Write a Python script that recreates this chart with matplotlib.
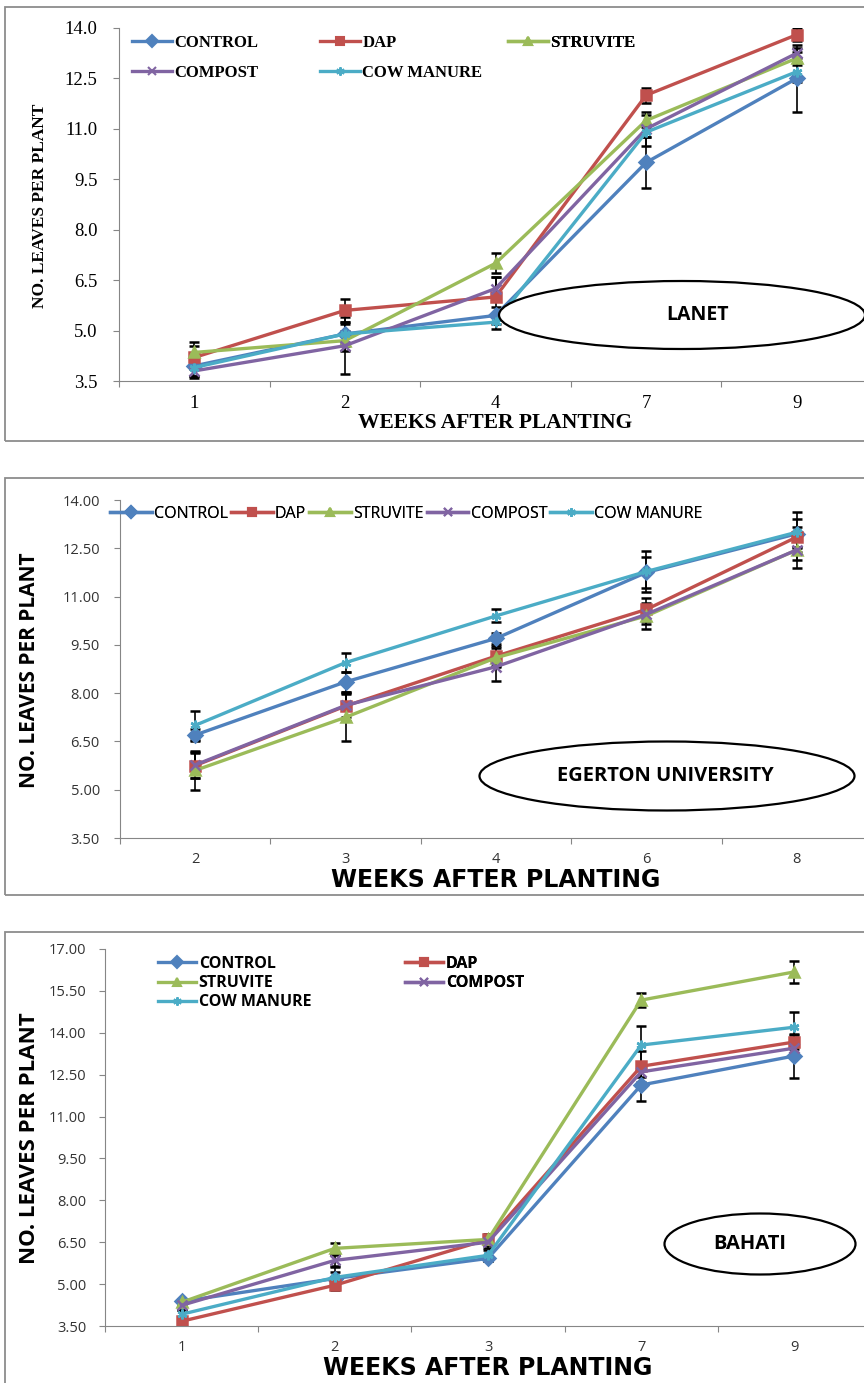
import matplotlib
matplotlib.use("Agg")
import matplotlib.pyplot as plt
from matplotlib.patches import Rectangle, Ellipse
from matplotlib.lines import Line2D

W, H = 864, 1383

names = ["CONTROL", "DAP", "STRUVITE", "COMPOST", "COW MANURE"]
colors = ["#4F81BD", "#C0504D", "#9BBB59", "#8064A2", "#4BACC6"]
markers = ["D", "s", "^", "x", (6, 2, 0)]

# LANET
lanet_weeks = ["1", "2", "4", "7", "9"]
lanet_control = [3.95, 4.90, 5.45, 10.0, 12.5]
lanet_dap = [4.2, 5.6, 6.0, 12.0, 13.8]
lanet_struvite = [4.35, 4.7, 7.0, 11.25, 13.1]
lanet_compost = [3.8, 4.55, 6.25, 11.0, 13.25]
lanet_cow = [3.9, 4.9, 5.25, 10.9, 12.7]
lanet_err = [
    [0.3, 0.35, 0.25, 0.75, 1.0],
    [0.35, 0.35, 0.6, 0.23, 0.2],
    [0.3, 0.3, 0.3, 0.15, 0.2],
    [0.2, 0.85, 0.35, 0.5, 0.15],
    [0.25, 0.3, 0.2, 0.15, 0.3],
]

# EGERTON UNIVERSITY
egerton_weeks = ["2", "3", "4", "6", "8"]
egerton_control = [6.7, 8.35, 9.7, 11.75, 12.95]
egerton_dap = [5.75, 7.6, 9.15, 10.6, 12.85]
egerton_struvite = [5.6, 7.25, 9.1, 10.4, 12.45]
egerton_compost = [5.77, 7.62, 8.82, 10.45, 12.45]
egerton_cow = [7.0, 8.95, 10.4, 11.78, 13.0]
egerton_err = [
    [0.2, 0.3, 0.17, 0.47, 0.45],
    [0.4, 0.45, 0.3, 0.35, 0.3],
    [0.6, 0.75, 0.3, 0.4, 0.55],
    [0.4, 0.35, 0.45, 0.3, 0.3],
    [0.45, 0.3, 0.2, 0.65, 0.63],
]

# BAHATI
bahati_weeks = ["1", "2", "3", "7", "9"]
bahati_control = [4.38, 5.2, 5.92, 12.13, 13.17]
bahati_dap = [3.67, 4.96, 6.6, 12.8, 13.67]
bahati_struvite = [4.35, 6.28, 6.6, 15.17, 16.18]
bahati_compost = [4.24, 5.85, 6.5, 12.6, 13.45]
bahati_cow = [3.92, 5.24, 6.03, 13.56, 14.2]
bahati_err = [
    [0.1, 0.4, 0.1, 0.58, 0.8],
    [0.1, 0.12, 0.2, 0.55, 0.25],
    [0.1, 0.2, 0.1, 0.25, 0.4],
    [0.15, 0.2, 0.2, 0.2, 0.2],
    [0.15, 0.2, 0.2, 0.68, 0.54],
]

SERIF = "Liberation Serif"
SANS = "Open Sans"
WIDE = "DejaVu Sans"

fig = plt.figure(figsize=(W / 100, H / 100), dpi=100)


def fx(px):
    return px / W


def fy(py):
    return 1 - py / H


def make_axes(left, right, top, bottom):
    return fig.add_axes([fx(left), fy(bottom), (right - left) / W, (bottom - top) / H])


def draw_panel(ax, weeks, series, errs, ymax, fmt, font, tick_size, tick_color, ypad):
    x = list(range(len(weeks)))
    for vals, err, c, m in zip(series, errs, colors, markers):
        ax.errorbar(x, vals, yerr=err, color=c, marker=m, markersize=7, lw=2.4,
                    mew=1.8, ecolor="black", elinewidth=1.2, capsize=3.5, capthick=1.2)
    ax.set_xlim(-0.5, len(weeks) - 0.5)
    ax.set_ylim(3.5, ymax)
    yt = [3.5 + 1.5 * i for i in range(int((ymax - 3.5) / 1.5) + 1)]
    ax.set_yticks(yt)
    ax.set_yticklabels([fmt % v for v in yt], family=font, size=tick_size, color=tick_color)
    ax.set_xticks([i - 0.5 for i in range(len(weeks) + 1)])
    ax.set_xticklabels([])
    ax.set_xticks(x, minor=True)
    ax.set_xticklabels(weeks, minor=True, family=font, size=tick_size, color=tick_color)
    ax.tick_params(axis="x", which="minor", length=0, pad=10)
    ax.tick_params(axis="x", which="major", length=4.5, direction="out", color="#868686")
    ax.tick_params(axis="y", length=4.5, direction="out", color="#868686", pad=ypad)
    for s in ["top", "right"]:
        ax.spines[s].set_visible(False)
    for s in ["left", "bottom"]:
        ax.spines[s].set_color("#868686")
    ax.set_facecolor("none")


def legend_block(ax, idx, x, y, font, size, weight, handlelen, spacing):
    handles = [Line2D([], [], color=colors[i], marker=markers[i], lw=2.4, markersize=6, mew=1.5)
               for i in idx]
    leg = ax.legend(handles, [names[i] for i in idx], loc="upper left",
                    bbox_to_anchor=(fx(x), fy(y)), bbox_transform=fig.transFigure,
                    frameon=False, borderpad=0, borderaxespad=0, handlelength=handlelen,
                    handletextpad=0.15, labelspacing=spacing,
                    ncol=len(idx) if len(idx) == 5 else 1, columnspacing=0.2,
                    prop={"family": font, "size": size, "weight": weight})
    ax.add_artist(leg)


def frame(top, bottom):
    fig.patches.append(Rectangle((fx(5), fy(bottom)), 1.2, (bottom - top) / H,
                                 transform=fig.transFigure, fill=False,
                                 edgecolor="#8c8c8c", lw=1.3))


def oval(cx, cy, w, h, text, tx, size):
    fig.patches.append(Ellipse((fx(cx), fy(cy)), w / W, h / H, transform=fig.transFigure,
                               fill=True, facecolor="white", edgecolor="black", lw=1.6, zorder=5))
    fig.text(fx(tx), fy(cy), text, family=SANS, weight="bold", size=size,
             ha="center", va="center", zorder=6)


# Panel 1: LANET
frame(7, 441)
ax1 = make_axes(119, 872, 28, 381)
draw_panel(ax1, lanet_weeks,
           [lanet_control, lanet_dap, lanet_struvite, lanet_compost, lanet_cow],
           lanet_err, 14.0, "%.1f", SERIF, 13.5, "black", 11)
legend_block(ax1, [0, 3], 132, 35, SERIF, 12, "bold", 2.4, 0.85)
legend_block(ax1, [1, 4], 320, 35, SERIF, 12, "bold", 2.4, 0.85)
legend_block(ax1, [2], 508, 35, SERIF, 12, "bold", 2.4, 0.85)
fig.text(fx(40), fy(206), "NO. LEAVES PER PLANT", family=SERIF, weight="bold", size=12.5,
         rotation=90, ha="center", va="center")
fig.text(fx(495), fy(423), "WEEKS AFTER PLANTING", family=SERIF, weight="bold", size=15.5,
         ha="center", va="center")
oval(682, 315, 366, 68, "LANET", 698, 14)

# Panel 2: EGERTON UNIVERSITY
frame(478, 895)
ax2 = make_axes(120, 872, 500, 838)
draw_panel(ax2, egerton_weeks,
           [egerton_control, egerton_dap, egerton_struvite, egerton_compost, egerton_cow],
           egerton_err, 14.0, "%.2f", SANS, 10.5, "#333333", 10)
legend_block(ax2, [0, 1, 2, 3, 4], 110, 506, SANS, 11.5, "normal", 2.6, 0.5)
fig.text(fx(30), fy(670), "NO. LEAVES PER PLANT", family=SANS, weight="bold", size=15,
         rotation=90, ha="center", va="center")
fig.text(fx(496), fy(880), "WEEKS AFTER PLANTING", family=WIDE, weight="bold", size=17,
         ha="center", va="center")
oval(667, 776, 375, 69, "EGERTON UNIVERSITY", 665, 14.5)

# Panel 3: BAHATI
frame(932, 1400)
ax3 = make_axes(105, 871, 949, 1326)
draw_panel(ax3, bahati_weeks,
           [bahati_control, bahati_dap, bahati_struvite, bahati_compost, bahati_cow],
           bahati_err, 17.0, "%.2f", SANS, 10.5, "#333333", 9)
legend_block(ax3, [0, 2, 4], 158, 956, SANS, 11.5, "bold", 2.4, 0.2)
legend_block(ax3, [1, 3], 405, 956, SANS, 11.5, "bold", 2.4, 0.2)
fig.text(fx(30), fy(1138), "NO. LEAVES PER PLANT", family=SANS, weight="bold", size=16,
         rotation=90, ha="center", va="center")
fig.text(fx(488), fy(1368), "WEEKS AFTER PLANTING", family=WIDE, weight="bold", size=17,
         ha="center", va="center")
oval(760, 1244, 191, 61, "BAHATI", 750, 14.5)

fig.savefig("out.png", dpi=100)
